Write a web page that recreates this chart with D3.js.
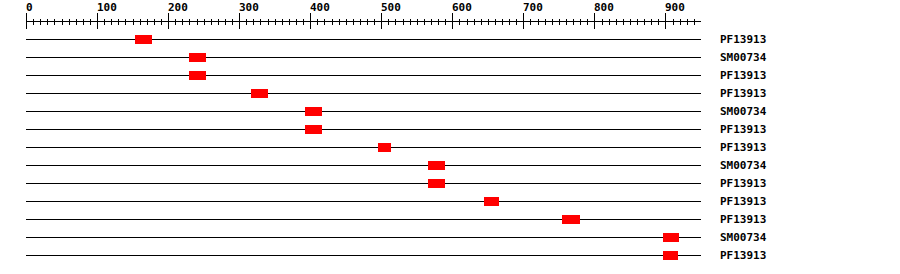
<!DOCTYPE html>
<html>
<head>
<meta charset="utf-8">
<title>Domain map</title>
<script src="https://d3js.org/d3.v7.min.js"></script>
<style>
  body { margin: 0; background: #fff; }
  text { font-family: "DejaVu Sans Mono", monospace; font-weight: bold; font-size: 11px; fill: #000; }
</style>
</head>
<body>
<script>
// rows, top to bottom
var labels = ["PF13913", "SM00734", "PF13913", "PF13913", "SM00734", "PF13913", "PF13913",
              "SM00734", "PF13913", "PF13913", "PF13913", "SM00734", "PF13913"];
var starts = [154, 229, 229, 317, 392, 392, 495, 566, 566, 644, 755, 896, 896];
var ends   = [177, 253, 253, 340, 416, 416, 514, 590, 589, 666, 780, 919, 918];
var majorTicks = [0, 100, 200, 300, 400, 500, 600, 700, 800, 900];
var seqLength = 950;

var width = 900, height = 274;

var svg = d3.select("body").append("svg")
    .attr("width", width)
    .attr("height", height)
    .attr("shape-rendering", "crispEdges");

var x = d3.scaleLinear().domain([0, seqLength]).range([26, 701]);
var y = d3.scaleBand().domain(d3.range(labels.length)).range([30, 264]);

var axisY = 21.5;

// minor ticks every 10
svg.append("g")
    .attr("transform", "translate(0," + (axisY - 3) + ")")
    .call(d3.axisBottom(x).tickValues(d3.range(0, seqLength, 10)).tickSize(6).tickFormat(""))
    .call(function(g) { g.select(".domain").remove(); });

// major ticks every 100
svg.append("g")
    .attr("transform", "translate(0," + (axisY - 8.5) + ")")
    .call(d3.axisBottom(x).tickValues(majorTicks).tickSize(16).tickFormat(""))
    .call(function(g) { g.select(".domain").remove(); });

svg.selectAll("line.tick").attr("stroke", "#000");

// axis line
svg.append("line")
    .attr("x1", x(0)).attr("x2", x(seqLength))
    .attr("y1", axisY).attr("y2", axisY)
    .attr("stroke", "#000");

// tick labels
svg.selectAll("text.tlab")
    .data(majorTicks)
    .enter().append("text")
    .attr("class", "tlab")
    .attr("x", function(d) { return Math.round(x(d)); })
    .attr("y", 11)
    .text(function(d) { return d; });

// rows
var rows = svg.selectAll("g.row")
    .data(labels)
    .enter().append("g")
    .attr("class", "row")
    .attr("transform", function(d, i) { return "translate(0," + (Math.round(y(i) + y.bandwidth() / 2) + 0.5) + ")"; });

rows.append("line")
    .attr("x1", x(0)).attr("x2", x(seqLength))
    .attr("stroke", "#000");

rows.append("rect")
    .attr("x", function(d, i) { return x(starts[i]); })
    .attr("width", function(d, i) { return x(ends[i]) - x(starts[i]); })
    .attr("y", -4.5)
    .attr("height", 9)
    .attr("fill", "#ff0000");

rows.append("text")
    .attr("x", 720)
    .attr("dy", "0.36em")
    .text(function(d) { return d; });
</script>
</body>
</html>
